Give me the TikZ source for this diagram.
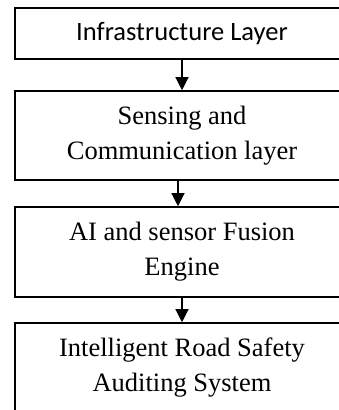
\documentclass[tikz,border=0pt]{standalone}
\usepackage{fontspec}
\setmainfont{Liberation Serif}
\newfontfamily\layersans{Carlito}
\usetikzlibrary{arrows.meta}

\begin{document}
\begin{tikzpicture}[x=1pt,y=-1pt,
    layer/.style={draw,line width=1.6pt,minimum width=334pt,align=center,inner sep=0pt,
      font=\fontsize{26.5}{35}\selectfont},
    flow/.style={line width=1.3pt,-{Triangle[width=13pt,length=13pt]}}]
  \clip (0,0) rectangle (339,410);
  \node[layer,minimum height=51pt,font=\layersans\fontsize{26.5}{32}\selectfont] (infra) at (182,33.5) {Infrastructure Layer};
  \node[layer,minimum height=89pt] (sense) at (182,135.5) {Sensing and\\Communication layer};
  \node[layer,minimum height=90pt] (fusion) at (182,252) {AI and sensor Fusion\\Engine};
  \node[layer,minimum height=90pt] (audit) at (182,368) {Intelligent Road Safety\\Auditing System};
  \draw[flow] (infra) -- (sense);
  \draw[flow] ([xshift=-4pt]sense.south) -- ([xshift=-4pt]fusion.north);
  \draw[flow] (fusion) -- (audit);
\end{tikzpicture}
\end{document}
